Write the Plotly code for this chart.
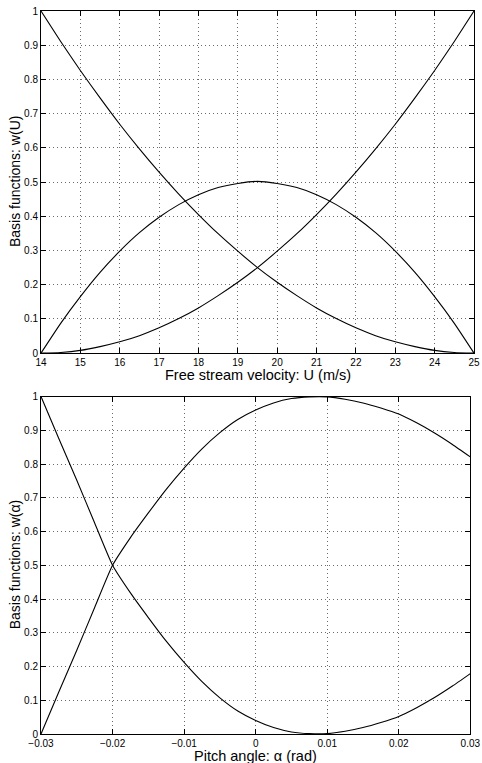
import plotly.graph_objects as go
from plotly.subplots import make_subplots

# Top panel: free stream velocity basis functions
u_vals = [14, 14.5, 15, 15.5, 16, 16.5, 17, 17.5, 18, 18.5, 19, 19.5,
          20, 20.5, 21, 21.5, 22, 22.5, 23, 23.5, 24, 24.5, 25]
w_u_dec = [1.0, 0.911, 0.826, 0.746, 0.669, 0.597, 0.529, 0.465, 0.405, 0.349, 0.298, 0.250,
           0.207, 0.168, 0.132, 0.101, 0.074, 0.051, 0.033, 0.019, 0.008, 0.002, 0.0]
w_u_mid = [0.0, 0.087, 0.165, 0.236, 0.298, 0.352, 0.397, 0.434, 0.463, 0.484, 0.496, 0.502,
           0.496, 0.484, 0.463, 0.434, 0.397, 0.352, 0.298, 0.236, 0.165, 0.087, 0.0]
w_u_inc = [0.0, 0.002, 0.008, 0.019, 0.033, 0.051, 0.074, 0.101, 0.132, 0.168, 0.207, 0.250,
           0.298, 0.349, 0.405, 0.465, 0.529, 0.597, 0.669, 0.746, 0.826, 0.911, 1.0]

# Bottom panel: pitch angle basis functions
a_vals = [-0.03, -0.0275, -0.025, -0.0225, -0.02, -0.0175, -0.015, -0.0125, -0.01,
          -0.0075, -0.005, -0.0025, 0.0, 0.0025, 0.005, 0.0075, 0.01, 0.0125,
          0.015, 0.0175, 0.02, 0.0225, 0.025, 0.0275, 0.03]
w_a_dec = [1.0, 0.875, 0.752, 0.625, 0.5, 0.418, 0.345, 0.275, 0.212,
           0.155, 0.107, 0.068, 0.040, 0.019, 0.006, 0.001, 0.001, 0.008,
           0.019, 0.034, 0.052, 0.078, 0.108, 0.142, 0.179]
w_a_inc = [0.0, 0.125, 0.248, 0.375, 0.5, 0.582, 0.655, 0.725, 0.788,
           0.845, 0.893, 0.932, 0.960, 0.981, 0.994, 0.999, 0.999, 0.992,
           0.981, 0.966, 0.948, 0.922, 0.892, 0.858, 0.821]

u_ticks = list(range(14, 26))
a_ticks = [-0.03, -0.02, -0.01, 0, 0.01, 0.02, 0.03]
y_ticks = [0, 0.1, 0.2, 0.3, 0.4, 0.5, 0.6, 0.7, 0.8, 0.9, 1]
y_tick_text = ["0", "0.1", "0.2", "0.3", "0.4", "0.5", "0.6", "0.7", "0.8", "0.9", "1"]
a_tick_text = ["\u22120.03", "\u22120.02", "\u22120.01", "0", "0.01", "0.02", "0.03"]

fig = make_subplots(rows=2, cols=1)

line = dict(color="black", width=1.1, shape="spline", smoothing=0.5)
for ys in (w_u_dec, w_u_mid, w_u_inc):
    fig.add_trace(go.Scatter(x=u_vals, y=ys, mode="lines", line=line,
                             showlegend=False, hoverinfo="skip"), row=1, col=1)
for ys in (w_a_dec, w_a_inc):
    fig.add_trace(go.Scatter(x=a_vals, y=ys, mode="lines", line=line,
                             showlegend=False, hoverinfo="skip"), row=2, col=1)

axis_common = dict(
    showline=True, linecolor="black", linewidth=1, mirror="ticks",
    ticks="inside", ticklen=5, tickcolor="black", tickwidth=1,
    showgrid=True, gridcolor="#6a6a6a", griddash="1px,3px", gridwidth=1,
    zeroline=False, tickfont=dict(size=10, color="black"),
    ticklabeloverflow="allow", automargin=False,
)

fig.update_xaxes(**axis_common)
fig.update_yaxes(**axis_common)

fig.update_xaxes(range=[14, 25], tickvals=u_ticks, domain=[0, 1], row=1, col=1)
fig.update_yaxes(range=[0, 1], tickvals=y_ticks, ticktext=y_tick_text,
                 domain=[0.5268, 1.0], row=1, col=1)
fig.update_xaxes(range=[-0.03, 0.03], tickvals=a_ticks, ticktext=a_tick_text,
                 domain=[0, 0.9915], row=2, col=1)
fig.update_yaxes(range=[0, 1], tickvals=y_ticks, ticktext=y_tick_text,
                 domain=[0.0, 0.4668], row=2, col=1)

xtitle_font = dict(size=14.5, color="black")
ytitle_font = dict(size=14, color="black")
fig.add_annotation(text="Free stream velocity: U (m/s)", xref="paper", yref="paper",
                   x=0.5, y=0.4965, xanchor="center", yanchor="middle",
                   showarrow=False, font=xtitle_font)
fig.add_annotation(text="Pitch angle: \u03b1 (rad)", xref="paper", yref="paper",
                   x=0.4957, y=-0.0305, xanchor="center", yanchor="middle",
                   showarrow=False, font=xtitle_font)
fig.add_annotation(text="Basis functions: w(U)", xref="paper", yref="paper",
                   x=-0.06, y=0.7634, xanchor="center", yanchor="middle",
                   textangle=-90, showarrow=False, font=ytitle_font)
fig.add_annotation(text="Basis functions: w(\u03b1)", xref="paper", yref="paper",
                   x=-0.06, y=0.2334, xanchor="center", yanchor="middle",
                   textangle=-90, showarrow=False, font=ytitle_font)

fig.update_layout(
    width=482, height=763,
    margin=dict(l=41, r=8, t=11, b=29, autoexpand=False),
    paper_bgcolor="white", plot_bgcolor="white",
    font=dict(family="Liberation Sans, Arial, sans-serif", color="black"),
)

fig.write_html(
    "out.html",
    config={"displayModeBar": False},
    post_script="document.body.style.margin='0px';document.body.style.overflow='hidden';",
)
